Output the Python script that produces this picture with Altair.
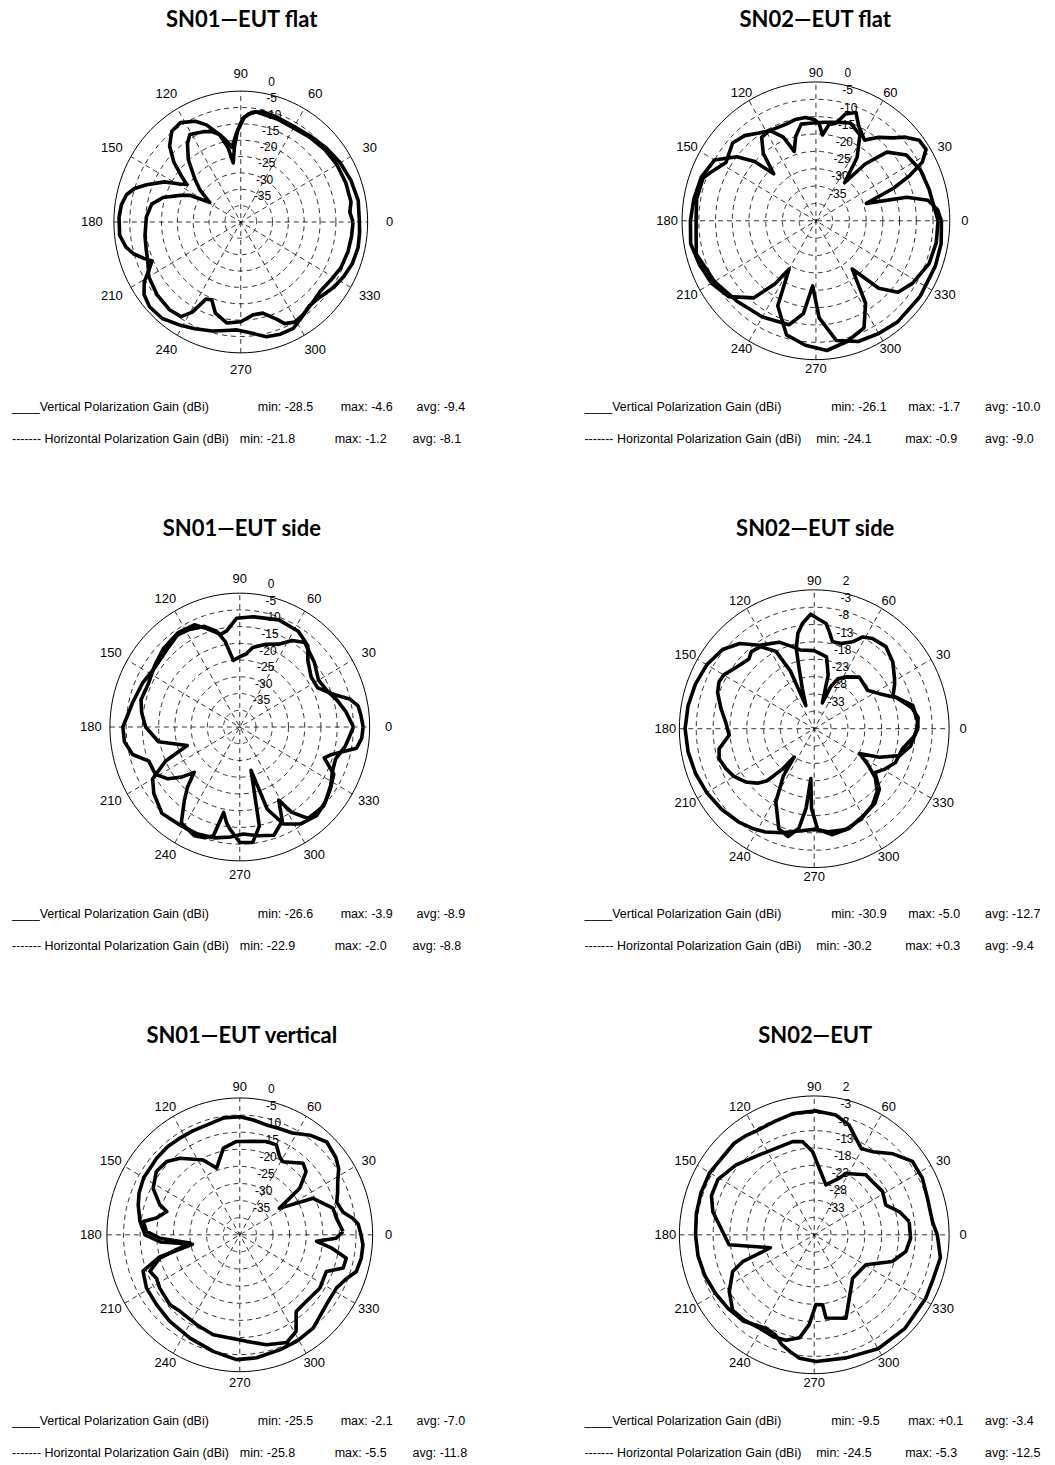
import altair as alt
import pandas as pd

# ------------------------------------------------------------------ data
TITLES = ["SN01\u2014EUT flat", "SN02\u2014EUT flat", "SN01\u2014EUT side",
          "SN02\u2014EUT side", "SN01\u2014EUT vertical", "SN02\u2014EUT"]

RING_LABELS_A = ["0", "-5", "-10", "-15", "-20", "-25", "-30", "-35"]
RING_LABELS_B = ["2", "-3", "-8", "-13", "-18", "-23", "-28", "-33"]
ANGLE_LABELS = [0, 30, 60, 90, 120, 150, 180, 210, 240, 270, 300, 330]

V_NAME = "____Vertical Polarization Gain (dBi)"
H_NAME = "------- Horizontal Polarization Gain (dBi)"

V_STATS = [("-28.5", "-4.6", "-9.4"), ("-26.1", "-1.7", "-10.0"), ("-26.6", "-3.9", "-8.9"),
           ("-30.9", "-5.0", "-12.7"), ("-25.5", "-2.1", "-7.0"), ("-9.5", "+0.1", "-3.4")]
H_STATS = [("-21.8", "-1.2", "-8.1"), ("-24.1", "-0.9", "-9.0"), ("-22.9", "-2.0", "-8.8"),
           ("-30.2", "+0.3", "-9.4"), ("-25.8", "-5.5", "-11.8"), ("-24.5", "-5.3", "-12.5")]

# panel 1 : SN01 flat
P1_V_ANG = [0, 5, 10, 20, 30, 40, 50, 60, 70, 77, 82, 86, 89, 93, 97, 100, 104, 108, 113, 117, 121, 125, 131,
            138, 143, 148.5, 153, 157, 163, 169, 177, 188, 196, 203, 210, 220, 230, 237, 241, 245, 249, 254,
            262, 270, 278, 284, 291, 294, 299, 305, 312, 320, 328, 336, 345, 353]
P1_V_DB = [-4.6, -5.5, -4.7, -4.8, -5, -5.5, -6.2, -6.8, -6.5, -6.4, -6.0, -7, -8.5, -13, -17, -15, -12.5,
           -11, -10, -9.5, -8.8, -10.7, -14.8, -20.6, -24, -28.5, -22, -19.2, -14.4, -11.4, -10.2, -9.5, -9,
           -8.2, -6.5, -5.5, -5, -5.5, -8.5, -14, -14.5, -11, -8.8, -9.5, -11.4, -11.3, -8.1, -6, -5, -5.5,
           -6.5, -7.2, -6.5, -5.5, -5.0, -4.8]
P1_H_ANG = [0, 10, 20, 30, 40, 50, 60, 70, 78, 84, 88, 92, 95, 97.5, 100, 104, 110, 115, 122, 128, 134, 139,
            143, 146, 149, 153, 159, 163, 167, 172, 178, 186, 192, 196, 200, 203, 207, 211, 216, 222, 230,
            238, 246, 255, 262, 268, 275, 283, 290, 297, 303, 310, 318, 326, 333, 340, 348, 355]
P1_H_DB = [-2.6, -2.4, -3.0, -3.8, -4.8, -5.8, -6.3, -6.0, -5.6, -6.3, -8, -12, -17, -21.8, -17, -12.5,
           -8.4, -6, -4.2, -4.7, -7.7, -12, -16.5, -19.5, -17.5, -13, -8.2, -5, -3, -2, -1.6, -1.6, -3,
           -4.8, -7.5, -9.6, -7.5, -4.5, -2.3, -1.3, -1.5, -3.0, -4.3, -5.5, -6.5, -7, -6, -4, -3.5, -3.5,
           -5, -6.5, -6.0, -4.5, -3.5, -2.6, -2.2, -2.4]

# panel 2 : SN02 flat
P2_V_ANG = [0, 15, 25, 35, 43, 48, 52, 56, 62, 70, 78, 85, 92, 99, 104, 108, 112, 118, 124, 129, 133, 137,
            142, 150, 160, 170, 180, 190, 200, 210, 220, 230, 236, 240, 245, 255, 265, 275, 285, 295, 302,
            308, 314, 320, 328, 340, 350]
P2_V_DB = [-3.5, -5, -5.5, -7, -11, -18, -26.1, -18, -12, -10, -11, -11.5, -11.8, -11.8, -15, -19, -14,
           -10.5, -11, -15, -21.5, -15, -10, -5, -3.5, -3, -2.5, -2, -3, -4, -6, -11, -18, -24, -13, -6,
           -4, -2.5, -4, -6, -12, -22.4, -13, -8, -6, -4, -3.5]
P2_H_ANG = [0, 5, 10, 14, 18.4, 22, 25, 28, 32, 37, 42, 46, 52, 58, 65, 69, 74, 78, 82, 85.5, 88, 91, 96,
            102, 108, 118, 124, 131, 138, 148, 155, 160, 170, 179, 186, 195, 210, 225, 240, 255, 262, 267,
            272, 280, 290, 300, 310, 325, 340, 350]
P2_H_DB = [-2.5, -3.5, -6, -12, -24.1, -15, -9, -4, -1.2, -1.4, -4, -6.8, -9.5, -12.6, -9.8, -6.6, -8,
           -11.3, -12, -15.2, -12, -10.8, -10.1, -10.2, -10.8, -10.6, -9.5, -7.5, -6.5, -8.3, -6, -4.1,
           -3.8, -4.2, -4.0, -3, -5, -7, -8, -9, -13, -21.2, -12, -5, -3, -2.5, -2, -2, -2, -2]

# panel 3 : SN01 side
P3_V_ANG = [0, 8, 15, 22, 30, 40, 51.6, 58, 64.2, 72, 80.5, 84.8, 90, 95.7, 100, 104, 110, 118, 125, 132.7,
            145.3, 156.4, 167.5, 180, 187, 194, 200, 208.5, 215, 219.8, 224, 228, 232, 237.8, 246.7, 252, 256,
            259, 262, 264.4, 270, 276.6, 281.5, 285, 289, 295, 303, 312, 320, 328, 335, 342, 350]
P3_V_DB = [-5, -7, -9, -11, -12, -10, -7.8, -9.5, -12.5, -14, -15.9, -18.1, -19, -20, -14, -10.5, -8, -7,
           -6.5, -7.6, -8.4, -7.3, -6.2, -4, -4.2, -6, -10.2, -10.4, -13, -16.6, -20.5, -16, -12.3, -6.2,
           -4.6, -5.2, -6.5, -14, -11, -9.3, -5.5, -5.3, -9.8, -26.6, -14, -8, -5.5, -4.5, -5.5, -7, -8.5,
           -9, -7]
P3_H_ANG = [0, 5, 9.8, 13.7, 18.5, 26, 34.3, 43.5, 49.2, 57.8, 69.4, 83, 91.8, 98, 102, 110, 114.6, 124, 135,
            145, 155, 165, 172, 180, 190, 198.8, 204, 210, 216.9, 227, 238.7, 248, 257, 265, 272, 280, 288,
            295, 298.8, 302, 307.6, 317.5, 326.4, 334, 340.5, 343.5, 350, 354.8]
P3_H_DB = [-2, -2.5, -3, -5, -9.4, -13.3, -13.4, -11.1, -7.9, -6.2, -5.8, -6.8, -7.5, -11, -11.7, -8.5,
           -6.4, -6, -6.8, -8, -9, -8.5, -9.5, -11, -14.6, -22.9, -15, -9, -6.9, -4.8, -5.4, -5.5, -6, -7,
           -8, -7, -6, -9, -15.1, -10, -5.5, -5, -6.5, -7.8, -12.4, -10.8, -3.5, -2.3]

# panel 4 : SN02 side
P4_V_ANG = [0, 4, 13, 22, 28, 31, 39.5, 48, 56.4, 61.4, 65.5, 72, 77.8, 80.8, 83.4, 87.3, 91.8, 96.6, 100,
            103, 104.5, 107, 110.5, 113, 117, 124, 130, 134, 142, 150, 154.4, 160, 168, 176, 184.3, 191.6,
            197, 203.7, 210, 217, 223, 227, 231, 234, 236, 241.7, 250, 256, 261, 264, 266, 268, 272, 280,
            290, 300, 310, 318, 325, 331, 338, 347.5, 356]
P4_V_DB = [-7.2, -7.3, -8, -12.8, -11, -10.2, -7.8, -6.2, -6.8, -7.9, -10.5, -12.2, -12.4, -9.8, -7.5,
           -6.5, -5.0, -7.5, -10.1, -14.3, -20.1, -26, -30.9, -20, -13, -9.5, -9, -10.1, -9, -7, -6.7, -7.5,
           -9.7, -11.7, -12.7, -9.2, -8.5, -9.4, -10.5, -12.5, -15, -17.5, -23, -27.9, -21.6, -14, -7.3,
           -6, -9, -15, -23.6, -15, -9, -7, -7.5, -9, -10, -12, -16, -14, -12, -11.2, -8.2]
P4_H_ANG = [0, 6, 12, 20, 27.6, 35, 48, 58, 64, 68, 72, 75, 80, 90, 100, 105, 112.6, 124, 132, 140, 150,
            160, 170, 180, 190, 200, 210, 220, 230, 238, 244, 252, 260, 270, 278, 288, 298, 308, 316, 322,
            327, 332, 337, 343, 350]
P4_H_DB = [-7.5, -7, -8.5, -12, -16.2, -18.7, -18, -20.4, -22, -25, -30.2, -22, -17, -15.5, -15, -13.6,
           -11, -9, -5, -2.5, -1.2, -0.5, 0, 0.3, 0, -0.5, -1.2, -2, -3, -4, -4.9, -6.5, -8, -9, -8, -7.5,
           -8.5, -10, -12, -15, -19, -22.8, -17, -11.5, -9]

# panel 5 : SN01 vertical
P5_V_ANG = [0, 5, 8, 12, 18, 23, 28, 33, 38, 46, 54, 62, 70, 76, 83, 90, 98, 107, 115, 122, 130, 138, 150,
            158, 164, 172.6, 180, 185, 191, 195, 200, 209, 219, 230, 243.6, 256.8, 268.4, 278, 290, 299, 309,
            322, 332, 338, 343, 349.5, 355.5]
P5_V_DB = [-3.5, -4.2, -5.6, -8.2, -9.3, -8, -6.6, -4.5, -3.3, -2.3, -4, -6.3, -6.8, -6.9, -6.2, -5.5,
           -5.5, -6.4, -6.5, -6.5, -6.3, -6.4, -6.6, -7.3, -8.2, -9.7, -11.5, -16, -25.5, -15, -9, -7.9,
           -7.7, -7.1, -6.3, -5, -3.5, -3.7, -4.3, -4.5, -4.9, -6.9, -7, -5.5, -3.3, -2.8, -2.8]
P5_H_ANG = [1.8, 9.5, 15.5, 25.8, 33, 37, 42.8, 47.7, 58.7, 62.3, 67.3, 73.7, 81.7, 92, 101, 109.7, 116.7,
            128.8, 135.8, 143.6, 152.5, 160, 162.8, 169, 172.4, 178, 182.4, 189, 195.8, 201.5, 206.8, 212.9,
            224, 231.2, 243.7, 254.7, 264.3, 273.7, 284, 294.2, 301, 307.2, 312.9, 327, 337.7, 342.7, 348,
            352, 355.3, 358]
P5_H_DB = [-8.9, -10.5, -10.9, -15.5, -25.8, -17.4, -12.8, -11.7, -15, -14.2, -11.5, -11.6, -12.4, -12.7,
           -14.2, -19.3, -15.5, -11.3, -9.3, -8.8, -10.6, -14.4, -17, -14.4, -10.7, -11.9, -16, -24.8, -15,
           -10.9, -11.9, -11.3, -10.7, -11.3, -10.7, -9.7, -9.7, -8.8, -6.9, -5.5, -7.1, -11.9, -12.1,
           -11.3, -11.8, -7.4, -7.2, -12, -16.8, -11]

# panel 6 : SN02 EUT
P6_V_ANG = [0, 6, 17.5, 27, 36, 45, 54, 60.6, 66, 72, 79.5, 89, 100, 110, 120, 125, 132, 140, 150, 160, 170,
            180, 190, 200, 210, 220, 230, 238, 243, 248, 253, 258, 263, 271, 285, 300, 315, 331, 340, 350,
            355]
P6_V_DB = [-1.5, -2.7, -2.8, -2, -2, -5, -8.4, -9.5, -7.6, -4.7, -2.9, -2.3, -2.5, -3.3, -3.5, -3, -2.5,
           -2.8, -2.2, -2.3, -2.5, -2.8, -3, -3.5, -4.2, -4.8, -5.5, -7, -7.5, -7, -5, -3.6, -2.2, -1.5,
           -1.3, -0.1, 0.1, -0.2, -0.5, 0, -0.9]
P6_H_ANG = [7.7, 14.9, 22, 31.7, 41.5, 48.5, 62, 65.6, 76.4, 85.5, 91.2, 97.4, 103.4, 114.6, 125.3, 139,
            150.8, 159.7, 167.5, 178, 186.5, 196, 200, 203.6, 212.9, 221.8, 229.6, 238.8, 247.5, 254.7,
            261.6, 266.7, 271.4, 277, 278.3, 291.4, 299.7, 312.4, 321.4, 330.6, 341.6, 350, 358]
P6_H_DB = [-9.6, -11.9, -15.1, -14.2, -14.9, -14.9, -18, -20.1, -23.2, -18.8, -14, -10.9, -10.4, -10.6,
           -9.8, -7.3, -5.3, -5.5, -7.2, -10.8, -12.6, -24.5, -15.4, -11.6, -8, -5.5, -5.8, -6.6, -6.2,
           -6.5, -8, -12.1, -17.9, -17.7, -13.8, -12.2, -17, -21.1, -21, -20.4, -13.6, -10.4, -9.4]

CURVES = [(P1_V_ANG, P1_V_DB, P1_H_ANG, P1_H_DB), (P2_V_ANG, P2_V_DB, P2_H_ANG, P2_H_DB),
          (P3_V_ANG, P3_V_DB, P3_H_ANG, P3_H_DB), (P4_V_ANG, P4_V_DB, P4_H_ANG, P4_H_DB),
          (P5_V_ANG, P5_V_DB, P5_H_ANG, P5_H_DB), (P6_V_ANG, P6_V_DB, P6_H_ANG, P6_H_DB)]
RING_SETS = [RING_LABELS_A, RING_LABELS_A, RING_LABELS_A, RING_LABELS_B, RING_LABELS_A, RING_LABELS_B]

# ------------------------------------------------------------------ layout
PANEL_W = 520
ROW_H = [507, 507, 435]
# polar centre inside each panel (px) and outer-circle radius (px, horizontal / vertical)
CENTERS = [(233, 211.5), (288.7, 210.3), (232, 210), (287, 211.7), (232, 211.3), (287, 211.3)]
RADII = [(127, 131), (134, 139), (130, 134), (135, 139), (133, 137), (135, 139)]
ALAB_PX = (149, 148)          # angle-label distance from centre (px)
TITLE_Y = [16.5, 16.5, 18.5, 18.5, 19.5, 19.5]
TITLE_X = [234, 288, 234, 288, 234, 288]
LEG_Y = [(397, 429), (397, 429), (397, 429), (397, 429), (398, 430), (398, 430)]
LEG_X_LEFT = (4, 250, 333, 409, 232, 327, 405)
LEG_X_RIGHT = (57, 304, 381, 458, 289, 378, 458)
FONT = "Liberation Sans"


def closed(ang, db):
    a = list(ang) + [ang[0] + 360]
    d = list(db) + [db[0]]
    return a, d


def panel(k):
    cx, cy = CENTERS[k]
    rx, ry = RADII[k]
    h = ROW_H[k // 2]
    labels = RING_SETS[k]
    gmin = float(labels[0]) - 40
    kx, ky = 40.0 / rx, 40.0 / ry
    xs = alt.Scale(domain=[-cx * kx, (PANEL_W - cx) * kx], nice=False, zero=False)
    ys = alt.Scale(domain=[-(h - cy) * ky, cy * ky], nice=False, zero=False)
    X = alt.X("x:Q", scale=xs, axis=None)
    Y = alt.Y("y:Q", scale=ys, axis=None)

    va, vd, ha, hd = CURVES[k]
    va, vd = closed(va, vd)
    ha, hd = closed(ha, hd)
    cdf = pd.DataFrame({
        "curve": ["V"] * len(va) + ["H"] * len(ha),
        "i": list(range(len(va))) + list(range(len(ha))),
        "ang": va + ha,
        "db": vd + hd,
    })
    curves = alt.Chart(cdf).transform_calculate(
        r=f"datum.db - ({gmin})"
    ).transform_calculate(
        x="datum.r*cos(datum.ang*PI/180)", y="datum.r*sin(datum.ang*PI/180)"
    ).mark_line(color="black", strokeWidth=3.6, strokeJoin="round").encode(
        x=X, y=Y, detail="curve:N", order="i:Q")

    ring_vals = [float(s) for s in labels[1:]]
    step_angles = list(range(0, 361, 3))
    rdf = pd.DataFrame([(rv, a) for rv in ring_vals for a in step_angles], columns=["ring", "ang"])
    rings = alt.Chart(rdf).transform_calculate(
        x=f"(datum.ring-({gmin}))*cos(datum.ang*PI/180)",
        y=f"(datum.ring-({gmin}))*sin(datum.ang*PI/180)"
    ).mark_line(color="black", strokeWidth=0.8, strokeDash=[5, 4]).encode(
        x=X, y=Y, detail="ring:N", order="ang:Q")

    odf = pd.DataFrame({"ang": step_angles})
    outer = alt.Chart(odf).transform_calculate(
        x="40*cos(datum.ang*PI/180)", y="40*sin(datum.ang*PI/180)"
    ).mark_line(color="black", strokeWidth=1).encode(x=X, y=Y, order="ang:Q")

    sdf = pd.DataFrame([(a, t) for a in ANGLE_LABELS[:6] for t in (-1, 1)], columns=["spoke", "t"])
    spokes = alt.Chart(sdf).transform_calculate(
        x="datum.t*40*cos(datum.spoke*PI/180)", y="datum.t*40*sin(datum.spoke*PI/180)"
    ).mark_line(color="black", strokeWidth=0.8, strokeDash=[5, 4]).encode(
        x=X, y=Y, detail="spoke:N", order="t:Q")

    lrx = ALAB_PX[0] * kx
    lry = ALAB_PX[1] * ky
    adf = pd.DataFrame({"ang": ANGLE_LABELS, "txt": [str(a) for a in ANGLE_LABELS]})
    alabels = alt.Chart(adf).transform_calculate(
        x=f"{lrx}*cos(datum.ang*PI/180)", y=f"{lry}*sin(datum.ang*PI/180)"
    ).mark_text(font=FONT, fontSize=13, color="black", align="center", baseline="middle").encode(
        x=X, y=Y, text="txt:N")

    ldf = pd.DataFrame({"txt": labels, "val": [float(s) for s in labels]})
    rlabels = alt.Chart(ldf).transform_calculate(
        x=f"(datum.val-({gmin}))*cos(82.5*PI/180)",
        y=f"(datum.val-({gmin}))*sin(82.5*PI/180)"
    ).mark_text(font=FONT, fontSize=12, color="black", align="left", baseline="middle",
                dx=11, dy=-10).encode(x=X, y=Y, text="txt:N")

    title = alt.Chart(pd.DataFrame({"t": [TITLES[k]]})).mark_text(
        font="Lato", fontSize=22, fontWeight="bold", color="black", align="center",
        baseline="alphabetic"
    ).encode(x=alt.value(TITLE_X[k]), y=alt.value(TITLE_Y[k]), text="t:N")

    lx = LEG_X_LEFT if k % 2 == 0 else LEG_X_RIGHT
    y1, y2 = LEG_Y[k]
    vmin, vmax, vavg = V_STATS[k]
    hmin, hmax, havg = H_STATS[k]
    items = [(V_NAME, lx[0], y1), ("min: " + vmin, lx[1], y1), ("max: " + vmax, lx[2], y1),
             ("avg: " + vavg, lx[3], y1),
             (H_NAME, lx[0], y2), ("min: " + hmin, lx[4], y2), ("max: " + hmax, lx[5], y2),
             ("avg: " + havg, lx[6], y2)]
    legend = [alt.Chart(pd.DataFrame({"t": [s]})).mark_text(
        font=FONT, fontSize=12.5, color="black", align="left", baseline="middle"
    ).encode(x=alt.value(px), y=alt.value(py), text="t:N") for s, px, py in items]

    return alt.layer(rings, spokes, outer, curves, alabels, rlabels, title, *legend).properties(
        width=PANEL_W, height=h)


rows = [alt.hconcat(panel(2 * r), panel(2 * r + 1), spacing=0) for r in range(3)]
chart = alt.vconcat(*rows, spacing=0).properties(padding=0).configure_view(stroke=None)

chart.save("out.html", embed_options={"renderer": "svg", "actions": False})
